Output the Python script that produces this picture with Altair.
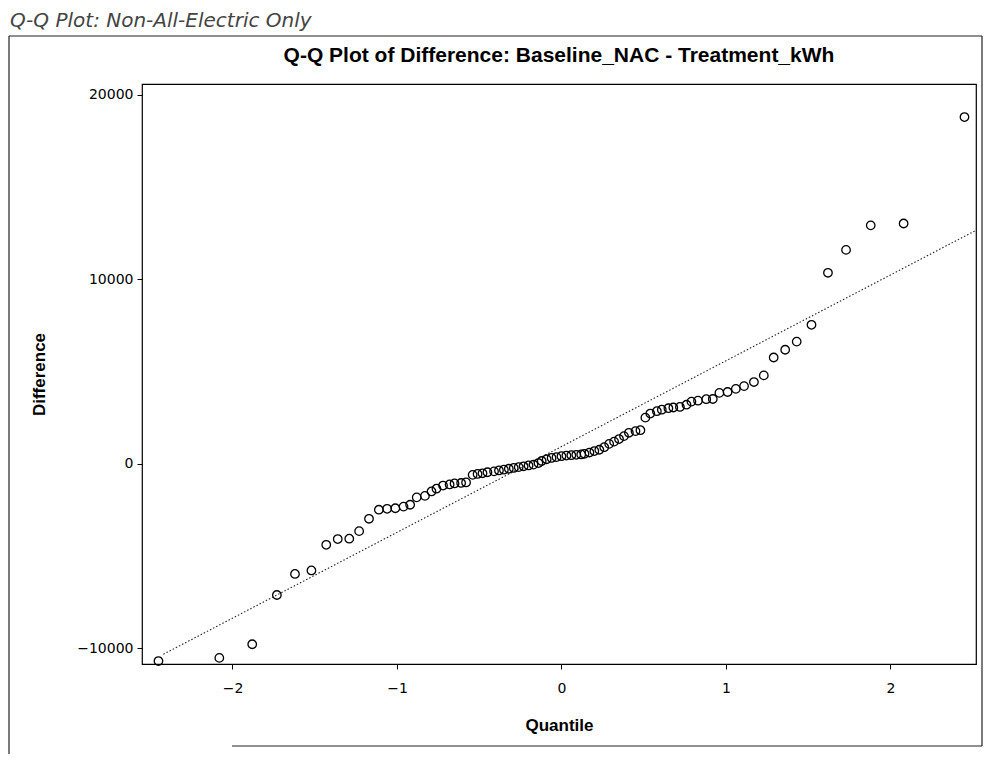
import altair as alt
import pandas as pd

quantile = [-2.45, -2.08, -1.88, -1.73, -1.62, -1.52, -1.43, -1.36, -1.29, -1.23,
            -1.17, -1.11, -1.06, -1.01, -0.96, -0.92, -0.88, -0.83, -0.79, -0.76,
            -0.72, -0.68, -0.65, -0.61, -0.58, -0.54, -0.51, -0.48, -0.45, -0.41,
            -0.38, -0.35, -0.32, -0.29, -0.26, -0.23, -0.20, -0.17, -0.14, -0.12,
            -0.09, -0.06, -0.03, 0.00, 0.03, 0.06, 0.09, 0.12, 0.14, 0.17,
            0.20, 0.23, 0.26, 0.29, 0.32, 0.35, 0.38, 0.41, 0.45, 0.48,
            0.51, 0.54, 0.58, 0.61, 0.65, 0.68, 0.72, 0.76, 0.79, 0.83,
            0.88, 0.92, 0.96, 1.01, 1.06, 1.11, 1.17, 1.23, 1.29, 1.36,
            1.43, 1.52, 1.62, 1.73, 1.88, 2.08, 2.45]
difference = [-10690, -10520, -9780, -7110, -5970, -5780, -4390, -4080, -4060, -3650,
              -2980, -2490, -2440, -2410, -2320, -2220, -1820, -1740, -1500, -1350,
              -1180, -1120, -1065, -1040, -1010, -600, -550, -515, -460, -410,
              -360, -320, -270, -225, -180, -135, -90, -45, 40, 150,
              245, 315, 360, 410, 445, 465, 485, 505, 540, 610,
              690, 760, 900, 1080, 1200, 1340, 1500, 1680, 1770, 1820,
              2500, 2720, 2850, 2930, 3010, 3050, 3080, 3200, 3370, 3420,
              3500, 3510, 3840, 3890, 4060, 4210, 4430, 4790, 5760, 6180,
              6620, 7530, 10350, 11590, 12920, 13020, 18790]

# Normal reference line end points
line_q = [-2.42, 2.52]
line_val = [-10320, 12650]

x_ticks = [-2, -1, 0, 1, 2]
y_ticks = [-10000, 0, 10000, 20000]

caption = "Q-Q Plot: Non-All-Electric Only"
title = "Q-Q Plot of Difference: Baseline_NAC - Treatment_kWh"

pts = pd.DataFrame({"Quantile": quantile, "Difference": difference})
ref = pd.DataFrame({"Quantile": line_q, "Difference": line_val})

W, H = 834, 580
xs = alt.Scale(domain=[-2.55, 2.52], nice=False, zero=False)
ys = alt.Scale(domain=[-10850, 20580], nice=False, zero=False)

AX_FONT = "DejaVu Sans"
T_FONT = "Liberation Sans Narrow, Liberation Sans, Arial"

points = alt.Chart(pts).mark_point(
    shape="circle", filled=False, color="black", size=72, strokeWidth=1.3, opacity=1
).encode(
    x=alt.X("Quantile:Q", scale=xs,
            axis=alt.Axis(values=x_ticks, title="Quantile", grid=False, domain=False,
                          tickColor="black", tickSize=5, labelFont=AX_FONT, labelFontSize=14,
                          labelColor="black", labelPadding=12, titleFont=T_FONT,
                          titleFontSize=17, titleFontWeight="bold", titleColor="black",
                          titlePadding=22, format="d")),
    y=alt.Y("Difference:Q", scale=ys,
            axis=alt.Axis(values=y_ticks, title="Difference", grid=False, domain=False,
                          tickColor="black", tickSize=5, labelFont=AX_FONT, labelFontSize=14,
                          labelColor="black", labelPadding=4, titleFont=T_FONT,
                          titleFontSize=17, titleFontWeight="bold", titleColor="black",
                          titlePadding=28, format="d")),
)

refline = alt.Chart(ref).mark_line(
    color="#222222", strokeWidth=1.1, strokeDash=[1.5, 2]
).encode(x=alt.X("Quantile:Q", scale=xs), y=alt.Y("Difference:Q", scale=ys))

title_txt = alt.Chart(pd.DataFrame({"t": [title]})).mark_text(
    font="Liberation Sans, Arial", fontSize=21, fontWeight="bold", color="black",
    align="center", baseline="middle"
).encode(x=alt.value(W / 2), y=alt.value(-28), text="t:N")

caption_txt = alt.Chart(pd.DataFrame({"t": [caption]})).mark_text(
    font="DejaVu Sans", fontSize=20, fontStyle="italic", fontWeight=300, color="#444444",
    align="left", baseline="alphabetic"
).encode(x=alt.value(-132), y=alt.value(-57), text="t:N")

def rule(x1, x2, y1, y2):
    return alt.Chart(pd.DataFrame({"a": [0]})).mark_rule(color="#222222", strokeWidth=1.2).encode(
        x=alt.value(x1), x2=alt.value(x2), y=alt.value(y1), y2=alt.value(y2))

borders = [
    rule(-133, -133, -48, 680),
    rule(-133, 840, -48, -48),
    rule(840, 840, -48, 662),
    rule(90, 840, 662, 662),
]

chart = alt.layer(refline, points, title_txt, caption_txt, *borders).properties(
    width=W, height=H,
    autosize=alt.AutoSizeParams(type="none"),
    padding={"left": 134, "top": 76, "right": 8, "bottom": 90},
).configure_view(stroke="black", strokeWidth=1.2)

chart.save("out.html", embed_options={"renderer": "svg", "actions": False})
